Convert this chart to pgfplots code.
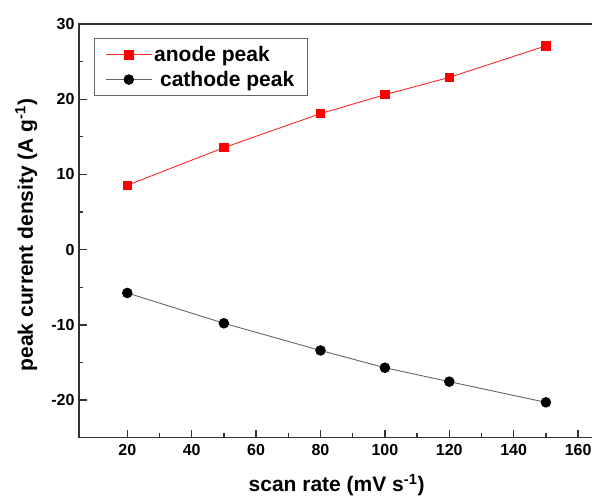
\documentclass[border=0pt]{standalone}
\usepackage{pgfplots}
\pgfplotsset{compat=1.18}
\usepackage{fontspec}
\setmainfont{Liberation Sans}
\begin{document}
\begin{tikzpicture}
\begin{axis}[
  scale only axis, width=515.2pt, height=413.7pt,
  xmin=5, xmax=165, ymin=-25, ymax=30,
  axis line style={line width=1.3pt, color=black!80},
  xtick={20,40,...,160}, ytick={-20,-10,...,30},
  minor x tick num=1, minor y tick num=1,
  xtick pos=bottom, ytick pos=left,
  tick align=inside, major tick length=8pt, minor tick length=4.5pt,
  every tick/.style={line width=1.3pt, color=black!80},
  /pgf/number format/assume math mode=true,
  ticklabel style={font=\fontsize{16}{16}\selectfont\bfseries},
  xticklabel style={yshift=-3pt},
  yticklabel style={xshift=-1pt},
  label style={font=\fontsize{21}{21}\selectfont\bfseries},
  xlabel={scan rate (mV s\textsuperscript{-1})},
  ylabel={peak current density (A g\textsuperscript{-1})},
  xlabel style={at={(axis description cs:0.5,0)}, anchor=base, yshift=-54pt},
  ylabel style={at={(axis description cs:-0.0893,0.49)}, anchor=base},
  legend style={at={(axis description cs:0.029,0.966)}, anchor=north west,
    draw=black!60, line width=0.8pt, inner xsep=11pt, inner ysep=6pt,
    row sep=4pt,
    font=\fontsize{21}{21}\selectfont\bfseries,
    nodes={inner sep=2pt}},
  legend cell align=left,
  legend image code/.code={\draw[mark repeat=2,mark phase=2] plot coordinates {(0pt,0pt)(23pt,0pt)(46pt,0pt)};},
]
\addplot[color=red!85, line width=0.9pt, mark=square*, mark size=4.2pt, mark options={fill=red, draw=red}]
  coordinates {(20,8.56) (50,13.56) (80,18.09) (100,20.6) (120,22.9) (150,27.1)};
\addlegendentry{anode peak}
\addplot[color=black!60, line width=0.9pt, mark=*, mark size=4.8pt, mark options={fill=black, draw=black}]
  coordinates {(20,-5.76) (50,-9.79) (80,-13.4) (100,-15.7) (120,-17.55) (150,-20.3)};
\addlegendentry{\ cathode peak}
\end{axis}
\pgfresetboundingbox
\path (-79pt,-59.3pt) rectangle (513pt,437.7pt);
\end{tikzpicture}
\end{document}
